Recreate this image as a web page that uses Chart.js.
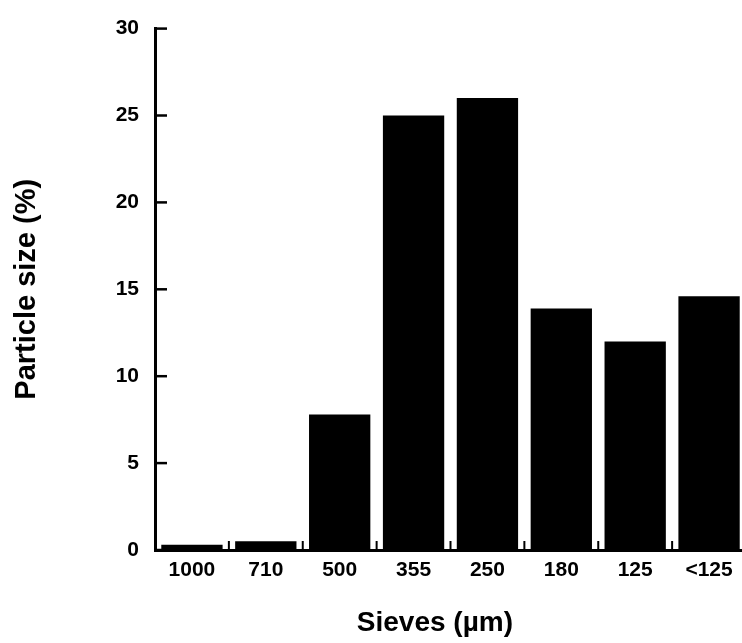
<!DOCTYPE html>
<html>
<head>
<meta charset="utf-8">
<script src="https://cdn.jsdelivr.net/npm/chart.js@4/dist/chart.umd.min.js"></script>
<style>
  html, body { margin: 0; padding: 0; background: #fff; overflow: hidden; }
  #wrap { position: relative; width: 748px; height: 643px; }
</style>
</head>
<body>
<div id="wrap"><canvas id="sieve-chart"></canvas></div>
<script>
const sieves = ['1000', '710', '500', '355', '250', '180', '125', '<125'];
const particleSize = [0.3, 0.5, 7.8, 25, 26, 13.9, 12, 14.6];
const yTicks = [0, 5, 10, 15, 20, 25, 30];

// small inward tick marks, like the original plot
const tickMarks = {
  id: 'tickMarks',
  afterDatasetsDraw(chart) {
    const { ctx, chartArea, scales: { x, y } } = chart;
    ctx.save();
    ctx.strokeStyle = '#000';
    ctx.lineWidth = 2.5;
    y.ticks.forEach(t => {
      const py = y.getPixelForValue(t.value);
      ctx.beginPath();
      ctx.moveTo(chartArea.left, py);
      ctx.lineTo(chartArea.left + 12, py);
      ctx.stroke();
    });
    ctx.lineWidth = 2;
    for (let i = 1; i < sieves.length; i++) {
      const px = (x.getPixelForValue(i - 1) + x.getPixelForValue(i)) / 2;
      ctx.beginPath();
      ctx.moveTo(px, chartArea.bottom);
      ctx.lineTo(px, chartArea.bottom - 9);
      ctx.stroke();
    }
    ctx.restore();
  }
};

document.addEventListener('DOMContentLoaded', function() {
  const ctx = document.getElementById('sieve-chart').getContext('2d');

  new Chart(ctx, {
    type: 'bar',
    data: {
      labels: sieves,
      datasets: [{
        data: particleSize,
        backgroundColor: '#000',
        borderWidth: 0,
        barPercentage: 0.83,
        categoryPercentage: 1
      }]
    },
    options: {
      responsive: true,
      maintainAspectRatio: false,
      animation: false,
      layout: { padding: { top: 23, right: 2, left: 0, bottom: 0 } },
      plugins: {
        legend: { display: false },
        tooltip: { enabled: false }
      },
      scales: {
        x: {
          offset: true,
          grid: { display: false, drawTicks: false },
          border: { display: true, color: '#000', width: 3 },
          ticks: {
            color: '#000',
            padding: 8,
            maxRotation: 0,
            font: { family: 'Liberation Sans', size: 21, weight: 'bold' }
          },
          title: {
            display: true,
            text: 'Sieves (\u00b5m)    ',
            color: '#000',
            padding: { top: 0, bottom: 3 },
            font: { family: 'Liberation Sans', size: 28, weight: 'bold' }
          },
          afterFit(scale) { scale.height = 93; }
        },
        y: {
          min: 0,
          max: 30,
          afterBuildTicks(scale) { scale.ticks = yTicks.map(v => ({ value: v })); },
          grid: { display: false, drawTicks: false },
          border: { display: true, color: '#000', width: 3 },
          ticks: {
            color: '#000',
            padding: 16,
            font: { family: 'Liberation Sans', size: 21, weight: 'bold' }
          },
          title: {
            display: true,
            text: 'Particle size (%)',
            color: '#000',
            padding: { top: 10, bottom: 0 },
            font: { family: 'Liberation Sans', size: 29, weight: 'bold' }
          },
          afterFit(scale) { scale.width = 155; }
        }
      }
    },
    plugins: [tickMarks]
  });
});
</script>
</body>
</html>
